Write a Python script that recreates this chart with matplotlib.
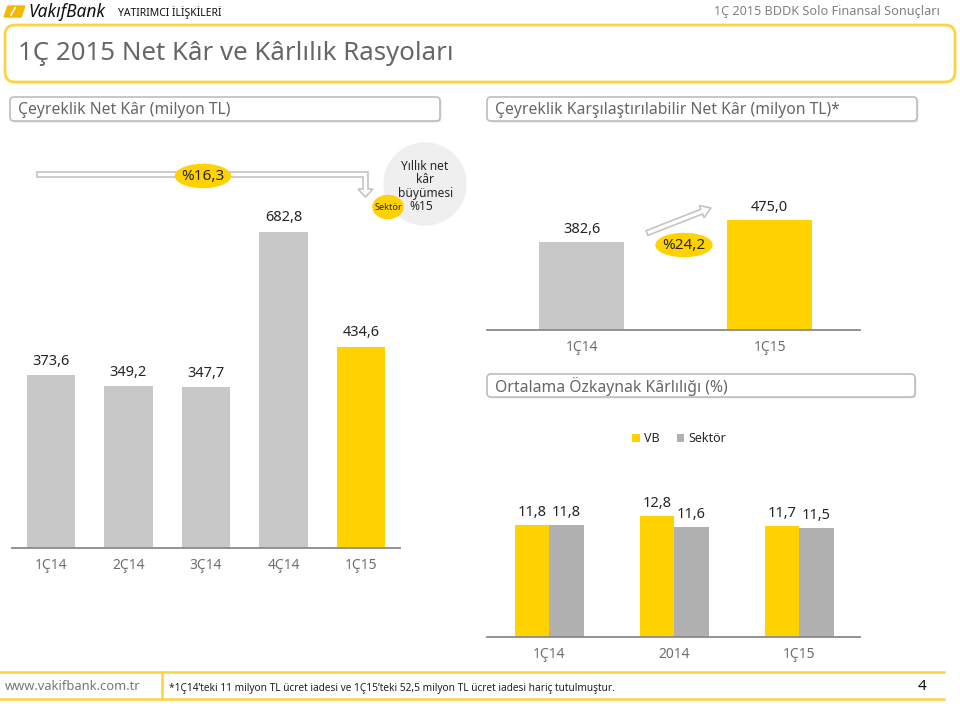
import matplotlib
matplotlib.use("Agg")
import matplotlib.pyplot as plt
import numpy as np
from matplotlib.patches import FancyBboxPatch, Ellipse, Circle, Polygon

plt.rcParams['font.family'] = ['Noto Sans', 'DejaVu Sans']

# --- data ---
quarters = ["1Ç14", "2Ç14", "3Ç14", "4Ç14", "1Ç15"]
net_profit = [373.6, 349.2, 347.7, 682.8, 434.6]
net_profit_labels = ["373,6", "349,2", "347,7", "682,8", "434,6"]

comp_periods = ["1Ç14", "1Ç15"]
comp_profit = [382.6, 475.0]
comp_labels = ["382,6", "475,0"]

roe_periods = ["1Ç14", "2014", "1Ç15"]
roe_vb = [11.8, 12.8, 11.7]
roe_sector = [11.8, 11.6, 11.5]
roe_vb_labels = ["11,8", "12,8", "11,7"]
roe_sector_labels = ["11,8", "11,6", "11,5"]

bubble_lines = ["Yıllık net", "kâr", "büyümesi", "%15"]

YELLOW = "#FFD200"
LGRAY = "#C8C8C8"
DGRAY = "#B0B0B0"
AXGRAY = "#8A8A8A"
TXT = "#262626"
CAT = "#6E6E6E"

W, H = 960, 704
fig = plt.figure(figsize=(9.6, 7.04), dpi=100)


def px_axes(x0, x1, ytop, ybase):
    # axes placed by pixel box (top-left origin)
    return fig.add_axes([x0 / W, (H - ybase) / H, (x1 - x0) / W, (ybase - ytop) / H])


def clean(ax):
    for s in ["top", "right", "left"]:
        ax.spines[s].set_visible(False)
    ax.spines["bottom"].set_color(AXGRAY)
    ax.spines["bottom"].set_linewidth(1.3)
    ax.set_yticks([])
    ax.tick_params(axis="x", length=0, pad=7, labelsize=10, labelcolor=CAT)
    ax.patch.set_alpha(0)


# --- left chart: quarterly net profit ---
ax1 = px_axes(12, 400, 140, 548)
x1 = np.arange(len(quarters))
colors1 = [LGRAY] * (len(quarters) - 1) + [YELLOW]
ax1.bar(x1, net_profit, width=0.62, color=colors1)
for xi, v, lab in zip(x1, net_profit, net_profit_labels):
    ax1.text(xi, v + 14, lab, ha="center", va="bottom", fontsize=10.5, color=TXT)
ax1.set_xlim(-0.503, 4.503)
ax1.set_ylim(0, 408 / 0.463)
ax1.set_xticks(x1)
ax1.set_xticklabels(quarters)
clean(ax1)

# --- right top chart: comparable net profit ---
ax2 = px_axes(487, 860, 140, 330)
x2 = np.arange(len(comp_periods))
ax2.bar(x2, comp_profit, width=0.452, color=[LGRAY, YELLOW])
for xi, v, lab in zip(x2, comp_profit, comp_labels):
    ax2.text(xi, v + 22, lab, ha="center", va="bottom", fontsize=10.5, color=TXT)
ax2.set_xlim(-0.503, 1.481)
ax2.set_ylim(0, 190 / 0.231)
ax2.set_xticks(x2)
ax2.set_xticklabels(comp_periods)
clean(ax2)

# --- right bottom chart: average ROE ---
ax3 = px_axes(487, 860, 460, 637)
x3 = np.arange(len(roe_periods))
bw = 0.276
b_vb = ax3.bar(x3 - bw / 2, roe_vb, width=bw, color=YELLOW, label="VB")
b_se = ax3.bar(x3 + bw / 2, roe_sector, width=bw, color=DGRAY, label="Sektör")
for xi, v, lab in zip(x3, roe_vb, roe_vb_labels):
    ax3.text(xi - bw / 2, v + 0.5, lab, ha="center", va="bottom", fontsize=10.5, color=TXT)
for xi, v, lab in zip(x3, roe_sector, roe_sector_labels):
    ax3.text(xi + bw / 2, v + 0.5, lab, ha="center", va="bottom", fontsize=10.5, color=TXT)
ax3.set_xlim(-0.496, 2.488)
ax3.set_ylim(0, 177 / 9.48)
ax3.set_xticks(x3)
ax3.set_xticklabels(roe_periods)
clean(ax3)
ax3.legend(handles=[b_vb, b_se], loc="center", ncol=2, frameon=False,
           bbox_to_anchor=(679 / W, 1 - 439 / H), bbox_transform=fig.transFigure,
           handlelength=0.6, handleheight=0.6, handletextpad=0.3,
           columnspacing=1.4, fontsize=9, labelcolor=TXT)

# --- overlay in pixel coordinates for slide decoration ---
ov = fig.add_axes([0, 0, 1, 1], zorder=-1)
ov.set_xlim(0, W)
ov.set_ylim(H, 0)
ov.axis("off")

# header
ov.add_patch(Polygon([(8, 6), (25, 6), (21, 17), (4, 17)], closed=True, color="#F5B800"))
ov.plot([11, 15], [15, 8], color="white", lw=1.2)
ov.text(28, 12, "VakıfBank", fontsize=12.5, fontweight="bold", fontstyle="italic",
        color="#111111", va="center", ha="left")
ov.text(118, 12.5, "YATIRIMCI İLİŞKİLERİ", fontsize=7.5, color="#111111", va="center", ha="left")
ov.text(940, 12, "1Ç 2015 BDDK Solo Finansal Sonuçları", fontsize=9.1, color="#808080",
        va="center", ha="right")

# title box
ov.add_patch(FancyBboxPatch((5, 25), 950, 57, boxstyle="round,pad=0,rounding_size=10",
                            fc="white", ec="#FFD23F", lw=2))
ov.text(18, 53, "1Ç 2015 Net Kâr ve Kârlılık Rasyoları", fontsize=18.6, color="#666666",
        va="center", ha="left")


def sub_box(x0, y0, w, h, text):
    ov.add_patch(FancyBboxPatch((x0 + 1.5, y0 + 1.5), w, h, boxstyle="round,pad=0,rounding_size=4",
                                fc="#E6E6E6", ec="none"))
    ov.add_patch(FancyBboxPatch((x0, y0), w, h, boxstyle="round,pad=0,rounding_size=4",
                                fc="white", ec="#BDBDBD", lw=1.2))
    ov.text(x0 + 8, y0 + h / 2 + 0.5, text, fontsize=11.3, color="#666666", va="center", ha="left")


sub_box(10, 97, 430, 24, "Çeyreklik Net Kâr (milyon TL)")
sub_box(487, 97, 430, 24, "Çeyreklik Karşılaştırılabilir Net Kâr (milyon TL)*")
sub_box(487, 374, 428, 23, "Ortalama Özkaynak Kârlılığı (%)")

# elbow hollow arrow on the left chart
ov.add_patch(Polygon([(37, 172), (368, 172), (368, 189), (373, 189), (365.5, 197),
                      (358, 189), (363, 189), (363, 177), (37, 177)],
                     closed=True, fc="white", ec="#C4C4C4", lw=1.2))
ov.add_patch(Ellipse((203, 176), 55, 23, color=YELLOW))
ov.text(203, 176.5, "%16,3", fontsize=11, color=TXT, ha="center", va="center")

# sector bubble
ov.add_patch(Circle((425, 184), 41, color="#EFEFEF"))
for (bx, by), line in zip([(425, 166), (425, 179.5), (426, 193), (421, 207)], bubble_lines):
    ov.text(bx, by, line, fontsize=8.6, color=TXT, ha="center", va="center")
ov.add_patch(Ellipse((388, 207), 30, 23, color=YELLOW))
ov.text(388, 207.5, "Sektör", fontsize=6.6, color=TXT, ha="center", va="center")

# straight hollow arrow on the right chart
p0 = np.array([647.0, 233.0])
p1 = np.array([711.0, 208.0])
d = (p1 - p0) / np.linalg.norm(p1 - p0)
n = np.array([-d[1], d[0]])
hb = p1 - d * 10
pts = [p0 + n * 2.5, hb + n * 2.5, hb + n * 6.5, p1, hb - n * 6.5, hb - n * 2.5, p0 - n * 2.5]
ov.add_patch(Polygon(pts, closed=True, fc="white", ec="#C4C4C4", lw=1.2))
ov.add_patch(Ellipse((684, 245), 56, 23, color=YELLOW))
ov.text(684, 245.5, "%24,2", fontsize=11, color=TXT, ha="center", va="center")

# footer
ov.plot([0, 944], [672, 672], color="#FFD23F", lw=1.8)
ov.plot([0, 944], [699, 699], color="#FFD23F", lw=1.8)
ov.plot([162, 162], [672, 699], color="#FFD23F", lw=1.8)
ov.text(5, 686, "www.vakifbank.com.tr", fontsize=9.3, color="#777777", va="center", ha="left")
ov.text(169, 688, "*1Ç14’teki 11 milyon TL ücret iadesi ve 1Ç15’teki 52,5 milyon TL ücret iadesi hariç tutulmuştur.",
        fontsize=7.3, color="#222222", va="center", ha="left")
ov.text(926, 686, "4", fontsize=11, color="#111111", va="center", ha="right")

fig.savefig("out.png", dpi=100)
